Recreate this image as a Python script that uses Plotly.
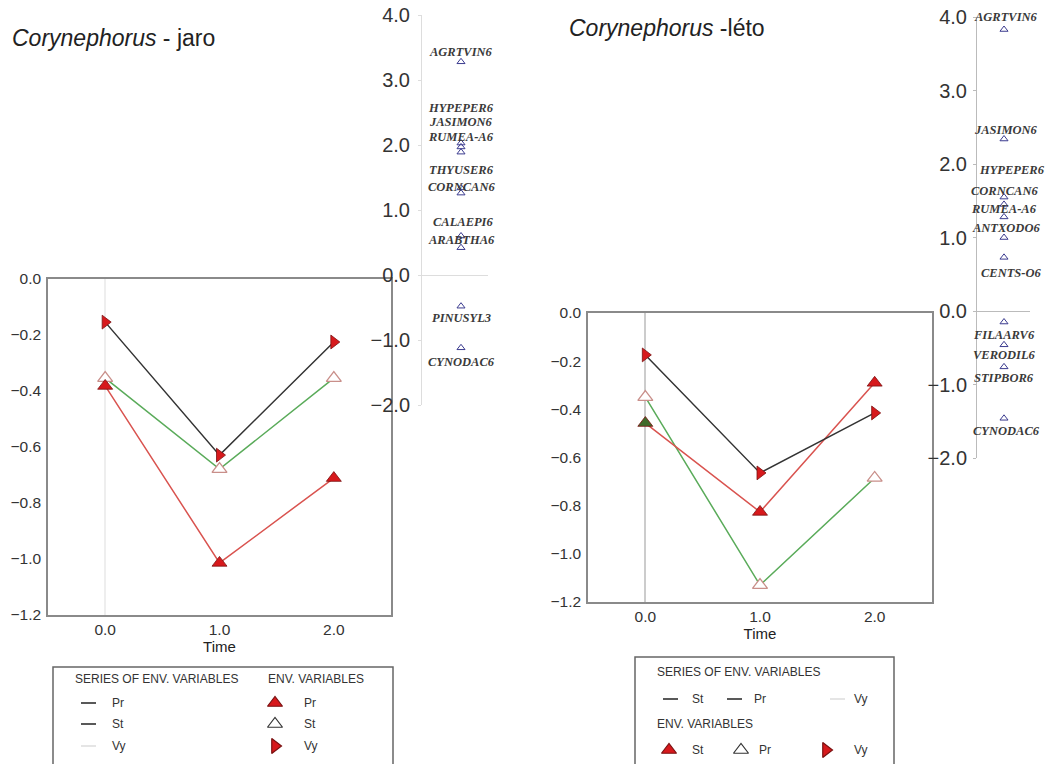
import plotly.graph_objects as go

W, H = 1052, 764


def fx(p):
    return p / W


def fy(p):
    return 1 - p / H


# ---------------- data ----------------
time = [0, 1, 2]
time_ticks = ["0.0", "1.0", "2.0"]

# spring (jaro)
jaro_pr = [-0.382, -1.014, -0.711]
jaro_st = [-0.354, -0.679, -0.354]
jaro_vy = [-0.154, -0.629, -0.225]

# summer (leto)
leto_st = [-0.457, -0.826, -0.290]
leto_pr = [-0.349, -1.130, -0.685]
leto_vy = [-0.174, -0.664, -0.415]

jaro_species = ["AGRTVIN6", "HYPEPER6", "JASIMON6", "RUMEA-A6", "THYUSER6",
                "CORNCAN6", "CALAEPI6", "ARABTHA6", "PINUSYL3", "CYNODAC6"]
jaro_scores = [3.28, 2.03, 1.97, 1.89, 1.34, 1.26, 0.60, 0.42, -0.48, -1.12]

leto_species = ["AGRTVIN6", "JASIMON6", "HYPEPER6", "CORNCAN6", "RUMEA-A6",
                "ANTXODO6", "CENTS-O6", "FILAARV6", "VERODIL6", "STIPBOR6", "CYNODAC6"]
leto_scores = [3.83, 2.34, 1.55, 1.45, 1.28, 1.00, 0.73, -0.15, -0.46, -0.76, -1.46]

# label offsets (style only: px, positive = up)
jaro_lab_dy = [10, 35, 25, 15, 18, 6, 14, 8, -12, -14]
jaro_lab_dx = [0, 0, 0, 0, 0, 0, 2, 0, 0, 0]
leto_lab_dy = [12, 9, 27, 13, 8, 9, -16, -13, -10, -11, -13]
leto_lab_dx = [2, 2, 8, 0, 0, 2, 7, 0, 0, 0, 2]

# ---------------- styles ----------------
SANS = "Liberation Sans, Arial, sans-serif"
SERIF = "Liberation Serif, Times New Roman, serif"
RED = "#d7191c"
RED_EDGE = "#7a1212"
RED_LINE = "#d9534f"
GREEN_LINE = "#5aab5a"
BLACK_LINE = "#333333"
OPEN_EDGE = "#c98f8a"
SP_COL = "#3b3b8f"

fig = go.Figure()


def add_main(xa, ya, red_vals, open_vals, vy_vals, red_colors):
    fig.add_trace(go.Scatter(
        x=time, y=open_vals, mode="lines+markers", xaxis=xa, yaxis=ya,
        line=dict(color=GREEN_LINE, width=1.5),
        marker=dict(symbol="triangle-up", size=13, color="white",
                    line=dict(color=OPEN_EDGE, width=1.3)),
        showlegend=False, hoverinfo="x+y"))
    fig.add_trace(go.Scatter(
        x=time, y=red_vals, mode="lines+markers", xaxis=xa, yaxis=ya,
        line=dict(color=RED_LINE, width=1.5),
        marker=dict(symbol="triangle-up", size=13, color=red_colors,
                    line=dict(color=RED_EDGE, width=0.8)),
        showlegend=False, hoverinfo="x+y"))
    fig.add_trace(go.Scatter(
        x=time, y=vy_vals, mode="lines+markers", xaxis=xa, yaxis=ya,
        line=dict(color=BLACK_LINE, width=1.5),
        marker=dict(symbol="triangle-right", size=12, color=RED,
                    line=dict(color=RED_EDGE, width=0.8)),
        showlegend=False, hoverinfo="x+y"))


add_main("x", "y", jaro_pr, jaro_st, jaro_vy, [RED, RED, RED])
add_main("x3", "y3", leto_st, leto_pr, leto_vy, ["#3f6b2a", RED, RED])

# species axes
fig.add_trace(go.Scatter(
    x=[0] * len(jaro_scores), y=jaro_scores, mode="markers", xaxis="x2", yaxis="y2",
    marker=dict(symbol="triangle-up-open", size=7, color=SP_COL, line=dict(width=1)),
    text=jaro_species, hoverinfo="text+y", showlegend=False))
fig.add_trace(go.Scatter(
    x=[0] * len(leto_scores), y=leto_scores, mode="markers", xaxis="x4", yaxis="y4",
    marker=dict(symbol="triangle-up-open", size=7, color=SP_COL, line=dict(width=1)),
    text=leto_species, hoverinfo="text+y", showlegend=False))

annotations = []
for name, v, dy, dx in zip(jaro_species, jaro_scores, jaro_lab_dy, jaro_lab_dx):
    annotations.append(dict(x=0, y=v, xref="x2", yref="y2", text=f"<b><i>{name}</i></b>",
                            showarrow=False, yshift=dy, xshift=dx,
                            font=dict(family=SERIF, size=12.5, color="#3a3a3a")))
for name, v, dy, dx in zip(leto_species, leto_scores, leto_lab_dy, leto_lab_dx):
    annotations.append(dict(x=0, y=v, xref="x4", yref="y4", text=f"<b><i>{name}</i></b>",
                            showarrow=False, yshift=dy, xshift=dx,
                            font=dict(family=SERIF, size=12.5, color="#3a3a3a")))

# titles
annotations.append(dict(x=fx(10), y=fy(38), xref="paper", yref="paper", xanchor="left",
                        yanchor="middle", showarrow=False,
                        text="<i>Corynephorus</i> - jaro",
                        font=dict(family=SANS, size=23, color="#222")))
annotations.append(dict(x=fx(567), y=fy(28), xref="paper", yref="paper", xanchor="left",
                        yanchor="middle", showarrow=False,
                        text="<i>Corynephorus</i> -léto",
                        font=dict(family=SANS, size=23, color="#222")))

# ---------------- legends ----------------
LEG_FONT = dict(family=SANS, size=12, color="#333")
shapes = []


def leg_text(x, y, t):
    annotations.append(dict(x=fx(x), y=fy(y), xref="paper", yref="paper", xanchor="left",
                            yanchor="middle", showarrow=False, text=t, font=LEG_FONT))


def leg_line(x, y, color):
    shapes.append(dict(type="line", xref="paper", yref="paper", x0=fx(x), x1=fx(x + 15),
                       y0=fy(y), y1=fy(y), line=dict(color=color, width=1.5)))


# left legend box (open at bottom, clipped by page)
shapes.append(dict(type="path", xref="paper", yref="paper",
                   path=f"M {fx(53)} {fy(790)} L {fx(53)} {fy(667)} L {fx(393)} {fy(667)} L {fx(393)} {fy(790)}",
                   line=dict(color="#666", width=1.5)))
leg_text(73, 679, "SERIES OF ENV. VARIABLES")
leg_text(266, 679, "ENV. VARIABLES")
left_rows = [("Pr", "#222", 703), ("St", "#222", 724), ("Vy", "#dddddd", 746)]
for lab, col, yy in left_rows:
    leg_line(81, yy, col)
    leg_text(110, yy, lab)
    leg_text(302, yy, lab)

# right legend box
shapes.append(dict(type="path", xref="paper", yref="paper",
                   path=f"M {fx(635)} {fy(790)} L {fx(635)} {fy(657)} L {fx(894)} {fy(657)} L {fx(894)} {fy(790)}",
                   line=dict(color="#666", width=1.5)))
leg_text(655, 672, "SERIES OF ENV. VARIABLES")
leg_text(655, 724, "ENV. VARIABLES")
for lab, col, x0, xt in [("St", "#222", 663, 690), ("Pr", "#222", 727, 752), ("Vy", "#dddddd", 830, 852)]:
    leg_line(x0, 699, col)
    leg_text(xt, 699, lab)
for lab, xt in [("St", 690), ("Pr", 757), ("Vy", 852)]:
    leg_text(xt, 750, lab)

# legend glyphs on an overlay axis in pixel units
glyph_x = [275, 275, 275, 669, 741, 826]
glyph_y = [703, 724, 746, 750, 750, 750]
glyph_sym = ["triangle-up", "triangle-up", "triangle-right",
             "triangle-up", "triangle-up", "triangle-right"]
glyph_col = [RED, "white", RED, RED, "white", RED]
glyph_edge = [RED_EDGE, "#333", RED_EDGE, RED_EDGE, "#333", RED_EDGE]
fig.add_trace(go.Scatter(
    x=glyph_x, y=glyph_y, mode="markers", xaxis="x5", yaxis="y5",
    marker=dict(symbol=glyph_sym, size=13, color=glyph_col,
                line=dict(color=glyph_edge, width=1.2)),
    hoverinfo="skip", showlegend=False))

# ---------------- axes ----------------
TICKF = dict(family=SANS, size=15.5, color="#333")
SMALLF = dict(family=SANS, size=20, color="#333")


def main_x(dom, zc):
    return dict(domain=[fx(dom[0]), fx(dom[1])], range=[-0.5, 2.5], tickvals=time,
                ticktext=time_ticks, showline=True, mirror=True, linecolor="#8a8a8a",
                linewidth=1.5, showgrid=False, zeroline=True, zerolinecolor=zc,
                zerolinewidth=1.5, ticks="", tickfont=TICKF, ticklabelstandoff=0,
                automargin=False,
                title=dict(text="Time", font=dict(family=SANS, size=15, color="#222"),
                           standoff=0))


def main_y(dom, anchor):
    return dict(domain=[fy(dom[1]), fy(dom[0])], range=[-1.2, 0.0], dtick=0.2,
                tickformat=".1f", showline=True, mirror=True, linecolor="#8a8a8a",
                linewidth=1.5, showgrid=False, zeroline=False, ticks="",
                tickfont=TICKF, ticklabelstandoff=2, anchor=anchor, automargin=False)


def small_x(x_left, x_right, x_center, anchor):
    w = x_right - x_left
    return dict(domain=[fx(x_left), fx(x_right)],
                range=[-(x_center - x_left) / w, (x_right - x_center) / w],
                visible=False, anchor=anchor, automargin=False)


def small_y(top, bottom, linecol, anchor, standoff):
    return dict(domain=[fy(bottom), fy(top)], range=[-2, 4], dtick=1, tickformat=".1f",
                showline=True, linecolor=linecol, linewidth=1, showgrid=False,
                zeroline=True, zerolinecolor=linecol, zerolinewidth=1,
                ticks="outside", ticklen=3, tickcolor=linecol, tickfont=SMALLF,
                ticklabelstandoff=standoff, anchor=anchor, automargin=False)


fig.update_layout(
    width=W, height=H, autosize=False,
    margin=dict(l=0, r=0, t=0, b=0, autoexpand=False),
    paper_bgcolor="white", plot_bgcolor="rgba(0,0,0,0)",
    showlegend=False,
    xaxis=dict(**main_x((48, 391), "#eeeeee"), anchor="y"),
    yaxis=main_y((279, 615), "x"),
    xaxis2=small_x(422, 488, 461, "y2"),
    yaxis2=small_y(15, 405, "#dddddd", "x2", 4),
    xaxis3=dict(**main_x((588, 932), "#cccccc"), anchor="y3"),
    yaxis3=main_y((313, 602), "x3"),
    xaxis4=small_x(977, 1030, 1004, "y4"),
    yaxis4=small_y(17, 458, "#bbbbbb", "x4", 2),
    xaxis5=dict(domain=[0, 1], range=[0, W], visible=False, anchor="y5",
                fixedrange=True, automargin=False),
    yaxis5=dict(domain=[0, 1], range=[H, 0], visible=False, anchor="x5",
                fixedrange=True, automargin=False),
    annotations=annotations,
    shapes=shapes,
)

fig.write_html("out.html")
